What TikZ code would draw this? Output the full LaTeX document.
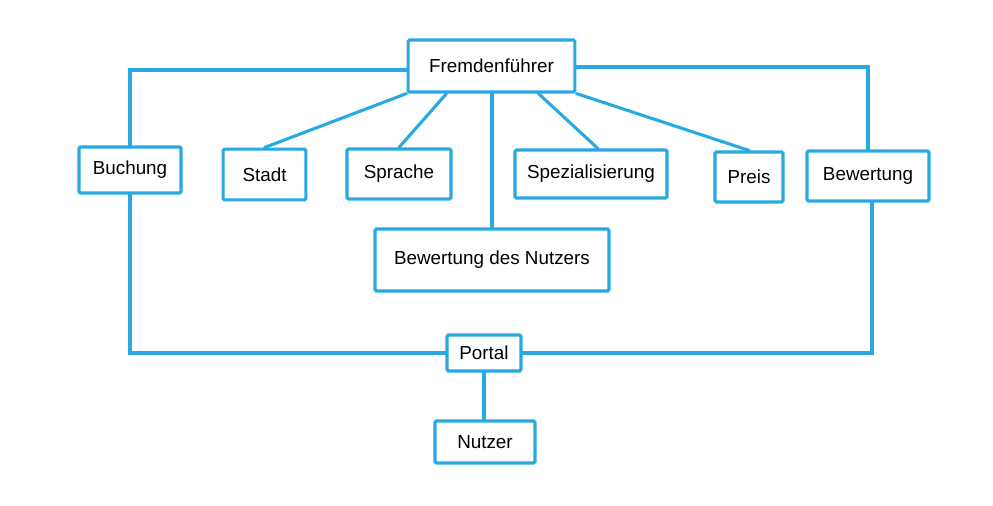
\documentclass[tikz,border=0pt]{standalone}
\usepackage{fontspec}
\setmainfont{Liberation Sans}
\usepackage{tikz}
\usetikzlibrary{positioning}
\definecolor{skyblue}{HTML}{29A9E1}

\begin{document}
\begin{tikzpicture}[
        x=0.025cm, y=-0.025cm,
        font=\fontsize{13.4}{16}\selectfont,
        every node/.style={align=center},
        box/.style={rectangle, rounded corners=1pt, draw=skyblue, line width=2.2pt,
                    fill=white, inner sep=0pt},
        link/.style={draw=skyblue, line width=2.2pt, line cap=round}
    ]
        \useasboundingbox (0,0) rectangle (993,506);

        % Knoten
        \node[box, minimum width=4.17cm, minimum height=1.3cm] (guide) at (491.5,66) {Fremdenführer};
        \node[box, minimum width=2.55cm, minimum height=1.15cm] (buchung) at (130,170) {Buchung};
        \node[box, minimum width=2.07cm, minimum height=1.27cm] (stadt) at (264.5,174.5) {Stadt};
        \node[box, minimum width=2.6cm, minimum height=1.25cm] (sprache) at (399,174) {Sprache};
        \node[box, minimum width=3.8cm, minimum height=1.2cm] (spez) at (591,174) {Spezialisierung};
        \node[box, minimum width=1.7cm, minimum height=1.25cm] (preis) at (749,177) {Preis};
        \node[box, minimum width=3.05cm, minimum height=1.25cm] (bewertung) at (868,176) {Bewertung};
        \node[box, minimum width=5.85cm, minimum height=1.55cm] (nutzerbew) at (492,260) {Bewertung des Nutzers};
        \node[box, minimum width=1.85cm, minimum height=0.9cm] (portal) at (484,353) {Portal};
        \node[box, minimum width=2.5cm, minimum height=1.05cm] (nutzer) at (485,442) {Nutzer};

        % Verbindungen
        \draw[link] (guide.west |- 0,70) -| (buchung.north);
        \draw[link] (guide.east |- 0,67) -| (bewertung.north);
        \draw[link] (guide.south west) -- (stadt.north);
        \draw[link] ([xshift=1cm]guide.south west) -- (sprache.north);
        \draw[link] (guide.south -| nutzerbew.north) -- (nutzerbew.north);
        \draw[link] ([xshift=-0.95cm]guide.south east) -- ([xshift=0.17cm]spez.north);
        \draw[link] (guide.south east) -- (preis.north);
        \draw[link] (buchung.south) |- (portal.west);
        \draw[link] ([xshift=0.1cm]bewertung.south) |- (portal.east);
        \draw[link] (portal.south) -- (portal.south |- nutzer.north);
    \end{tikzpicture}
\end{document}
